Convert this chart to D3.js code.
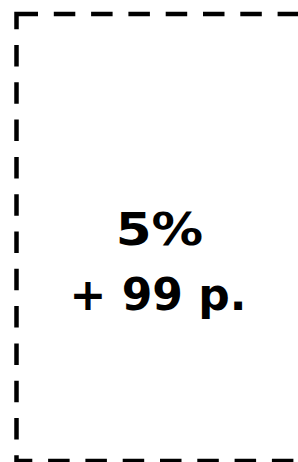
<!DOCTYPE html>
<html lang="en">
  <head>
    <meta charset="UTF-8" />
    <title>Share box</title>
    <script src="https://cdn.jsdelivr.net/npm/d3@7"></script>
    <style>
      html, body { margin: 0; padding: 0; background: #fff; }
      svg { display: block; }
    </style>
  </head>
  <body>
    <svg id="chart"></svg>
    <script>
      // values shown in the box
      const shares = [5];
      const changes = [99];
      const labels = [shares[0] + "%", "+ " + changes[0] + " p."];

      const width = 298;
      const height = 462;

      const svg = d3
        .select("#chart")
        .attr("width", width)
        .attr("height", height);

      // box frame, the right side runs past the edge of the view
      const box = { x: 16.5, y: 14, w: 306.6, h: 447 };

      svg
        .append("rect")
        .attr("x", box.x)
        .attr("y", box.y)
        .attr("width", box.w)
        .attr("height", box.h)
        .attr("fill", "none")
        .attr("stroke", "#000")
        .attr("stroke-width", 4.5)
        .attr("stroke-dasharray", "21.5,15.8");

      const y = d3.scalePoint().domain(labels).range([245, 310]);

      const text = svg
        .selectAll(".label")
        .data(labels)
        .enter()
        .append("text")
        .attr("class", "label")
        .attr("x", (d, i) => (i === 0 ? 159.5 : 158))
        .attr("y", (d) => y(d))
        .attr("text-anchor", "middle")
        .style("font-family", "DejaVu Sans")
        .style("font-weight", "bold")
        .style("font-size", "44px")
        .attr("fill", "#000")
        .text((d) => d);

      // the percent line is set a bit wider in the original (wide % sign)
      text
        .filter((d, i) => i === 0)
        .attr("textLength", 87.5)
        .attr("lengthAdjust", "spacingAndGlyphs");
    </script>
  </body>
</html>
